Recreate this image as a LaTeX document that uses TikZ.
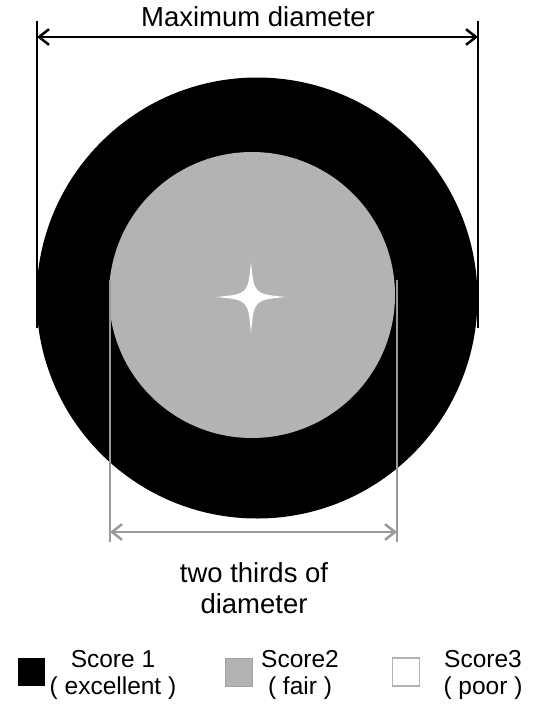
\documentclass[tikz,border=0pt]{standalone}
\usepackage{fontspec}
\setmainfont{Liberation Sans}
\usetikzlibrary{arrows.meta,positioning}
\definecolor{fairgray}{HTML}{B3B3B3}
\definecolor{dimgray}{HTML}{9A9A9A}
\tikzset{
  disc/.style={circle, inner sep=0pt, draw=none},
  dimline/.style={line width=2.5pt},
  dimarrow/.style={{Straight Barb[length=3.5mm,width=5.5mm]}-{Straight Barb[length=3.5mm,width=5.5mm]}, line width=2.5pt},
  lab/.style={font=\fontsize{27.5}{31}\selectfont, align=center, inner sep=0pt},
  leglab/.style={font=\fontsize{24.5}{27}\selectfont, align=center, inner sep=0pt},
  swatch/.style={minimum width=27pt, minimum height=28pt, inner sep=0pt},
}

\begin{document}
\begin{tikzpicture}[x=1pt, y=-1pt]
\useasboundingbox (0,0) rectangle (533,710);

% target
\node[disc, fill=black, minimum size=441pt] (outer) at (257,298) {};
\node[disc, fill=fairgray, minimum size=286pt] (inner) at (252,295) {};
\fill[white] (251,262) .. controls (254,294) .. (286,297)
  .. controls (254,300) .. (251,333)
  .. controls (248,300) .. (216,297)
  .. controls (248,294) .. cycle;

% maximum diameter
\coordinate (mtl) at (37,21);
\coordinate (mbl) at (37,328);
\coordinate (mtr) at (478,21);
\coordinate (mbr) at (478,328);
\coordinate (mal) at (37,37);
\coordinate (mar) at (478,37);
\draw[dimline] (mtl) -- (mbl);
\draw[dimline] (mtr) -- (mbr);
\draw[dimarrow] (mal) -- (mar);
\node[lab] (maxlab) at (258,17) {Maximum diameter};

% two thirds
\coordinate (ttl) at (110,280);
\coordinate (tbl) at (110,542);
\coordinate (ttr) at (397,280);
\coordinate (tbr) at (397,542);
\coordinate (tal) at (110,532);
\coordinate (tar) at (397,532);
\draw[dimline, dimgray] (ttl) -- (tbl);
\draw[dimline, dimgray] (ttr) -- (tbr);
\draw[dimarrow, dimgray] (tal) -- (tar);
\node[lab] (twolab) at (254,588) {two thirds of\\diameter};

% legend
\node[swatch, fill=black] (sw1) at (31,672) {};
\node[swatch, fill=fairgray, draw=fairgray!90!black, line width=0.8pt] (sw2) at (239,672) {};
\node[swatch, fill=white, draw=fairgray, line width=1.2pt] (sw3) at (406,672) {};
\node[leglab] (s1) at (113,675) {Score 1\\( excellent )};
\node[leglab] (s2) at (300,675) {Score2\\( fair )};
\node[leglab] (s3) at (483,675) {Score3\\( poor )};

\end{tikzpicture}
\end{document}
